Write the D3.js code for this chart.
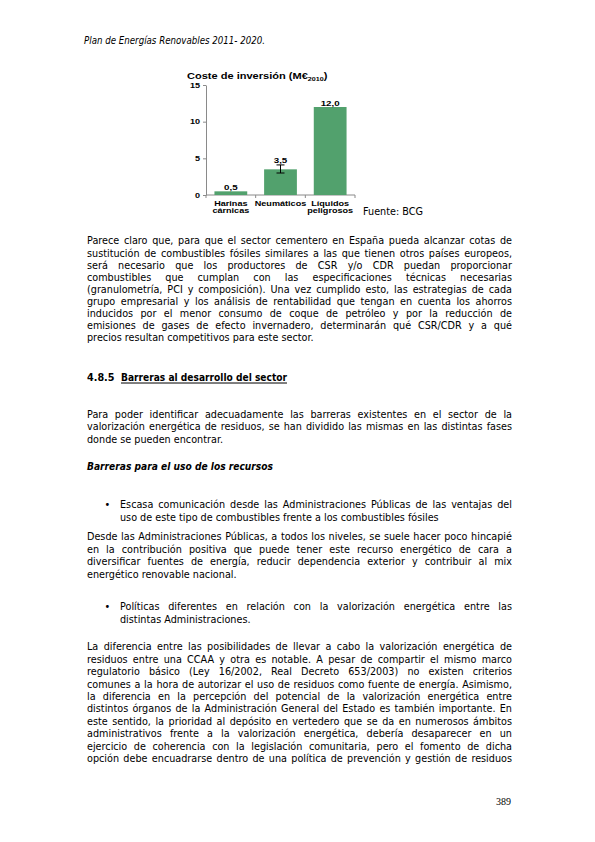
<!DOCTYPE html>
<html>
<head>
<meta charset="utf-8">
<title>Coste de inversión</title>
<script src="https://d3js.org/d3.v7.min.js"></script>
<style>
    body { margin: 0; background: #fff; }
    .body-text { font-family: "DejaVu Sans", sans-serif; fill: #000; }
    .chart-text { font-family: "Liberation Sans", Arial, sans-serif; font-weight: bold; fill: #000; }
    .axis path, .axis line { stroke: #8a8a8a; }
</style>
</head>
<body>
<svg id="page" width="595" height="842"></svg>
<script>
// chart data
var categories = ["Harinas cárnicas", "Neumáticos", "Líquidos peligrosos"];
var costs = [0.5, 3.5, 12.0];
var errLow = [null, 3.0, null];
var errHigh = [null, 4.1, null];
var yTicks = [0, 5, 10, 15];

// page text, one entry per printed line
var para1 = [
    "Parece claro que, para que el sector cementero en España pueda alcanzar cotas de",
    "sustitución de combustibles fósiles similares a las que tienen otros países europeos,",
    "será necesario que los productores de CSR y/o CDR puedan proporcionar",
    "combustibles que cumplan con las especificaciones técnicas necesarias",
    "(granulometría, PCI y composición). Una vez cumplido esto, las estrategias de cada",
    "grupo empresarial y los análisis de rentabilidad que tengan en cuenta los ahorros",
    "inducidos por el menor consumo de coque de petróleo y por la reducción de",
    "emisiones de gases de efecto invernadero, determinarán qué CSR/CDR y a qué",
    "precios resultan competitivos para este sector."
];
var para2 = [
    "Para poder identificar adecuadamente las barreras existentes en el sector de la",
    "valorización energética de residuos, se han dividido las mismas en las distintas fases",
    "donde se pueden encontrar."
];
var bullet1 = [
    "Escasa comunicación desde las Administraciones Públicas de las ventajas del",
    "uso de este tipo de combustibles frente a los combustibles fósiles"
];
var para3 = [
    "Desde las Administraciones Públicas, a todos los niveles, se suele hacer poco hincapié",
    "en la contribución positiva que puede tener este recurso energético de cara a",
    "diversificar fuentes de energía, reducir dependencia exterior y contribuir al mix",
    "energético renovable nacional."
];
var bullet2 = [
    "Políticas diferentes en relación con la valorización energética entre las",
    "distintas Administraciones."
];
var para4 = [
    "La diferencia entre las posibilidades de llevar a cabo la valorización energética de",
    "residuos entre una CCAA y otra es notable. A pesar de compartir el mismo marco",
    "regulatorio básico (Ley 16/2002, Real Decreto 653/2003) no existen criterios",
    "comunes a la hora de autorizar el uso de residuos como fuente de energía. Asimismo,",
    "la diferencia en la percepción del potencial de la valorización energética entre",
    "distintos órganos de la Administración General del Estado es también importante. En",
    "este sentido, la prioridad al depósito en vertedero que se da en numerosos ámbitos",
    "administrativos frente a la valorización energética, debería desaparecer en un",
    "ejercicio de coherencia con la legislación comunitaria, pero el fomento de dicha",
    "opción debe encuadrarse dentro de una política de prevención y gestión de residuos"
];

var svg = d3.select("#page");
var right = 512;

// blocks: lines, left x, first baseline, leading, last line justified?
var blocks = [
    {lines: para1, x: 87, y: 244.5, lead: 12.1, justifyLast: false},
    {lines: para2, x: 87, y: 418, lead: 12.3, justifyLast: false},
    {lines: bullet1, x: 120, y: 508.5, lead: 12.4, justifyLast: false, bullet: true},
    {lines: para3, x: 87, y: 540.5, lead: 12.4, justifyLast: false},
    {lines: bullet2, x: 120, y: 610.5, lead: 12.4, justifyLast: false, bullet: true},
    {lines: para4, x: 87, y: 650.5, lead: 12.4, justifyLast: true}
];

// squeeze the text horizontally (the page face is narrower than DejaVu)
var probe = svg.append("text").attr("class", "body-text").style("font-size", "10px");
var worst = 0;
blocks.forEach(function(b) {
    b.lines.forEach(function(line, i) {
        if (i == b.lines.length - 1 && !b.justifyLast) return;
        probe.text(line);
        worst = Math.max(worst, probe.node().getComputedTextLength() / (right - b.x));
    });
});
probe.remove();
var sx = worst > 0.985 ? 0.985 / worst : 1;

var textG = svg.append("g").attr("class", "body-text").style("font-size", "10px")
    .attr("transform", "scale(" + sx + ",1)");

function justifiedLine(g, line, x, y) {
    var t = g.append("text").attr("y", y);
    var words = line.split(" ");
    var spans = words.map(function(w) { return t.append("tspan").text(w); });
    var widths = spans.map(function(s) { return s.node().getComputedTextLength(); });
    var gap = (right / sx - x / sx - d3.sum(widths)) / (words.length - 1);
    var cx = x / sx;
    spans.forEach(function(s, i) {
        s.attr("x", cx);
        cx += widths[i] + gap;
    });
}

function plain(x, y, s, w) {
    var t = textG.append("text").attr("x", x / sx).attr("y", y).text(s);
    if (w) t.attr("textLength", w / sx).attr("lengthAdjust", "spacingAndGlyphs");
    return t;
}

blocks.forEach(function(b) {
    b.lines.forEach(function(line, i) {
        var y = b.y + i * b.lead;
        if (i < b.lines.length - 1 || b.justifyLast) justifiedLine(textG, line, b.x, y);
        else plain(b.x, y, line);
    });
    if (b.bullet) plain(104.5, b.y, "•");
});

// header, headings, page number
plain(84, 44, "Plan de Energías Renovables 2011- 2020.", 181).style("font-style", "italic");
plain(87, 381.5, "4.8.5").style("font-weight", "bold");
plain(121, 381.5, "Barreras al desarrollo del sector", 166).style("font-weight", "bold")
    .style("text-decoration", "underline");
plain(87, 470.5, "Barreras para el uso de los recursos", 186).style("font-weight", "bold")
    .style("font-style", "italic");
plain(363, 215.5, "Fuente: BCG");
svg.append("text").attr("x", 511).attr("y", 805).attr("text-anchor", "end")
    .style("font-family", "'Liberation Serif', serif").style("font-size", "10px").text("389");

// ---- chart ----
var stretch = 1.3;
var x = d3.scaleBand().domain(categories).range([206, 355]).paddingInner(0.34).paddingOuter(0.17);
var y = d3.scaleLinear().domain([0, 15]).range([195, 85]);
var fmt = d3.formatLocale({decimal: ",", thousands: ".", grouping: [3], currency: ["", "€"]}).format(".1f");

var chart = svg.append("g");

var title = chart.append("text").attr("class", "chart-text").style("font-size", "8.5px")
    .attr("transform", "translate(187,79) scale(" + stretch + ",1)");
title.append("tspan").text("Coste de inversión (M€");
title.append("tspan").style("font-size", "5.5px").attr("dy", 1.8).text("2010");
title.append("tspan").attr("dy", -1.8).text(")");

var yAxis = chart.append("g").attr("class", "axis")
    .attr("transform", "translate(206,0)")
    .call(d3.axisLeft(y).tickValues(yTicks).tickSize(3).tickSizeOuter(0).tickPadding(3));
yAxis.selectAll("text").attr("class", "chart-text").attr("font-family", null)
    .style("font-size", "7px")
    .attr("transform", "scale(" + stretch + ",1)")
    .attr("x", -6 / stretch);

// category axis with ticks between the bands
var step = x.step();
var bounds = [x.range()[0]].concat(categories.slice(1).map(function(c) {
    return x(c) - step * x.paddingInner() / 2;
})).concat([x.range()[1]]);
var xAxis = chart.append("g").attr("class", "axis");
xAxis.append("line").attr("x1", x.range()[0]).attr("x2", x.range()[1])
    .attr("y1", y(0)).attr("y2", y(0));
xAxis.selectAll(".tk").data(bounds).enter().append("line")
    .attr("x1", function(d) { return d; }).attr("x2", function(d) { return d; })
    .attr("y1", y(0)).attr("y2", y(0) + 3);

chart.selectAll(".bar").data(categories).enter().append("rect")
    .attr("class", "bar")
    .attr("x", function(d) { return x(d); })
    .attr("width", x.bandwidth())
    .attr("y", function(d, i) { return y(costs[i]); })
    .attr("height", function(d, i) { return y(0) - y(costs[i]); })
    .style("fill", "#52a16d");

// error bar
categories.forEach(function(c, i) {
    if (errLow[i] == null) return;
    var cx = x(c) + x.bandwidth() / 2;
    var eb = chart.append("g").style("stroke", "#000").style("stroke-width", 1);
    eb.append("line").attr("x1", cx).attr("x2", cx).attr("y1", y(errLow[i])).attr("y2", y(errHigh[i]));
    [errLow[i], errHigh[i]].forEach(function(v) {
        eb.append("line").attr("x1", cx - 4).attr("x2", cx + 4).attr("y1", y(v)).attr("y2", y(v));
    });
});

// value labels
chart.selectAll(".val").data(categories).enter().append("text")
    .attr("class", "chart-text").style("font-size", "7.5px").attr("text-anchor", "middle")
    .attr("transform", function(d, i) {
        var top = errHigh[i] != null ? errHigh[i] : costs[i];
        return "translate(" + (x(d) + x.bandwidth() / 2) + "," + (y(top) - 1.5) + ") scale(" + stretch + ",1)";
    })
    .text(function(d, i) { return fmt(costs[i]); });

// category labels
categories.forEach(function(c) {
    var t = chart.append("text").attr("class", "chart-text").style("font-size", "7px")
        .attr("text-anchor", "middle")
        .attr("transform", "translate(" + (x(c) + x.bandwidth() / 2) + ",205.5) scale(" + stretch + ",1)");
    c.split(" ").forEach(function(part, j) {
        t.append("tspan").attr("x", 0).attr("dy", j ? 7.5 : 0).text(part);
    });
});
</script>
</body>
</html>
